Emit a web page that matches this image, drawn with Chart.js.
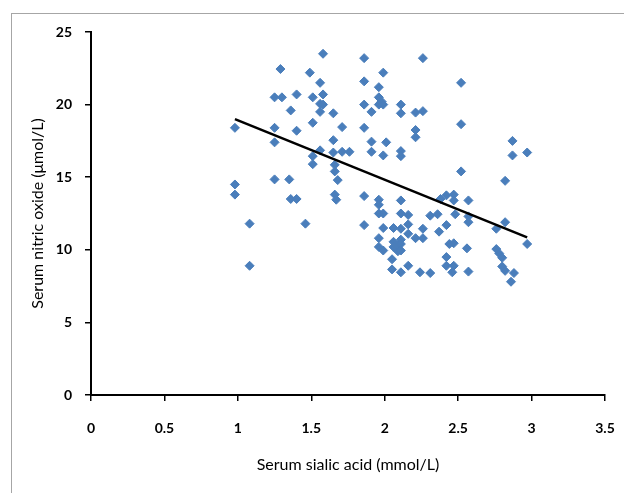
<!DOCTYPE html>
<html>
<head>
<meta charset="utf-8">
<script src="https://cdn.jsdelivr.net/npm/chart.js@4.4.0/dist/chart.umd.min.js"></script>
<style>
  html, body { margin: 0; padding: 0; background: #fff; overflow: hidden; }
  #wrap { position: relative; width: 624px; height: 493px; }
  #frame { position: absolute; left: 11px; top: 13px; width: 700px; height: 600px;
           border-left: 1px solid #a6a6a6; border-top: 1px solid #a6a6a6; }
  #chart { position: absolute; left: 0; top: 0; }
</style>
</head>
<body>
<div id="wrap">
  <div id="frame"></div>
  <canvas id="chart" width="624" height="493"></canvas>
</div>
<script>
// serum sialic acid (mmol/L)
const sialicAcid = [
  0.98, 0.98, 0.98, 1.08, 1.08,
  1.25, 1.30, 1.29, 1.25, 1.25, 1.25, 1.35, 1.36, 1.40, 1.36, 1.40, 1.40, 1.46, 1.49,
  1.51, 1.51, 1.51, 1.51, 1.56, 1.58, 1.58, 1.56, 1.58, 1.56, 1.56,
  1.65, 1.65, 1.65, 1.71, 1.76, 1.71, 1.66, 1.66, 1.68, 1.66, 1.67,
  1.86, 1.86, 1.86, 1.91, 1.86, 1.91, 1.91, 1.86, 1.86,
  1.99, 1.96, 1.96, 1.98, 1.96, 1.99, 2.01, 1.99, 1.96, 1.96, 1.96, 1.99, 1.99, 1.96, 1.96, 1.99,
  2.11, 2.11, 2.11, 2.11, 2.11, 2.11, 2.06, 2.11, 2.06, 2.09, 2.06, 2.11, 2.11, 2.09, 2.11, 2.05, 2.05, 2.11,
  2.26, 2.21, 2.26, 2.21, 2.21, 2.16, 2.16, 2.16, 2.26, 2.21, 2.26, 2.16, 2.24,
  2.31, 2.31, 2.36, 2.38, 2.37, 2.42, 2.47, 2.47, 2.42, 2.48, 2.44, 2.47, 2.42, 2.42, 2.47, 2.46,
  2.52, 2.52, 2.52, 2.57, 2.57, 2.57, 2.56, 2.57,
  2.82, 2.82, 2.76, 2.76, 2.78, 2.80, 2.80, 2.82, 2.88, 2.86, 2.87, 2.87, 2.97, 2.97
];
// serum nitric oxide (µmol/L), same order
const nitricOxide = [
  18.4, 14.5, 13.8, 11.8, 8.9,
  20.5, 20.5, 22.45, 18.4, 17.4, 14.85, 14.85, 13.5, 13.5, 19.6, 20.7, 18.2, 11.8, 22.2,
  20.5, 18.75, 16.45, 15.9, 21.5, 23.5, 20.7, 20.05, 20.0, 19.5, 16.85,
  19.4, 17.55, 16.7, 16.75, 16.75, 18.45, 15.85, 15.4, 14.8, 13.8, 13.45,
  23.2, 21.6, 20.0, 19.5, 18.4, 17.45, 16.75, 13.7, 11.7,
  22.2, 21.2, 20.5, 20.2, 20.0, 20.0, 17.4, 16.5, 13.45, 13.1, 12.5, 12.5, 11.5, 10.8, 10.2, 9.95,
  20.0, 19.4, 16.8, 16.45, 13.4, 12.5, 11.5, 11.45, 10.55, 10.3, 10.2, 10.7, 10.4, 9.9, 9.95, 9.35, 8.65, 8.45,
  23.2, 19.45, 19.55, 18.25, 17.75, 12.4, 11.75, 11.1, 11.45, 10.8, 10.8, 8.9, 8.45,
  8.4, 12.35, 12.45, 13.5, 11.25, 13.75, 13.8, 13.4, 11.7, 12.45, 10.4, 10.45, 9.5, 8.9, 8.9, 8.45,
  21.5, 18.65, 15.4, 13.4, 12.3, 11.9, 10.1, 8.5,
  14.75, 11.9, 11.45, 10.05, 9.75, 9.45, 8.85, 8.55, 8.4, 7.8, 17.5, 16.5, 16.7, 10.4
];

// linear trend line end points
const trendX = [0.98, 2.97];
const trendY = [19.0, 10.85];

const xTicks = [0, 0.5, 1, 1.5, 2, 2.5, 3, 3.5];
const yTicks = [0, 5, 10, 15, 20, 25];

const points = sialicAcid.map((x, i) => ({ x: x, y: nitricOxide[i] }));
const trend = trendX.map((x, i) => ({ x: x, y: trendY[i] }));

const tickFont = { family: 'Lato, "Open Sans", sans-serif', size: 14, weight: 'bold' };
const titleFont = { family: 'Lato, "Open Sans", sans-serif', size: 16 };

new Chart(document.getElementById('chart'), {
  type: 'scatter',
  data: {
    datasets: [
      {
        label: 'Trend',
        type: 'line',
        data: trend,
        borderColor: '#000',
        borderWidth: 2.5,
        pointRadius: 0,
        fill: false
      },
      {
        label: 'Patients',
        data: points,
        pointStyle: 'rectRot',
        pointRadius: 4.5,
        backgroundColor: '#4a7ebb',
        borderColor: '#4a7ebb',
        borderWidth: 1
      }
    ]
  },
  options: {
    responsive: false,
    animation: false,
    layout: { padding: { top: 32, right: 19, left: 0, bottom: 0 } },
    plugins: { legend: { display: false }, tooltip: { enabled: false } },
    scales: {
      x: {
        type: 'linear',
        min: 0,
        max: 3.5,
        afterBuildTicks: s => { s.ticks = xTicks.map(v => ({ value: v })); },
        afterFit: s => { s.height = 98; s.paddingLeft = 0; s.paddingRight = 0; },
        grid: { drawOnChartArea: false, drawTicks: true, tickLength: 6, color: '#000', lineWidth: 1.5 },
        border: { display: true, color: '#000', width: 2 },
        ticks: { color: '#000', font: tickFont, padding: 19, maxRotation: 0, callback: v => String(v) },
        title: {
          display: true,
          text: 'Serum sialic acid (mmol/L)',
          color: '#000',
          font: titleFont,
          padding: { top: 0, bottom: 19 }
        }
      },
      y: {
        type: 'linear',
        min: 0,
        max: 25,
        afterBuildTicks: s => { s.ticks = yTicks.map(v => ({ value: v })); },
        afterFit: s => { s.width = 91; s.paddingTop = 0; s.paddingBottom = 0; },
        grid: { drawOnChartArea: false, drawTicks: true, tickLength: 6, color: '#000', lineWidth: 1.5 },
        border: { display: true, color: '#000', width: 2 },
        ticks: { color: '#000', font: tickFont, padding: 13, callback: v => String(v) },
        title: {
          display: true,
          text: 'Serum nitric oxide (μmol/L)',
          color: '#000',
          font: titleFont,
          padding: { top: 28, bottom: 0 }
        }
      }
    }
  }
});
</script>
</body>
</html>
